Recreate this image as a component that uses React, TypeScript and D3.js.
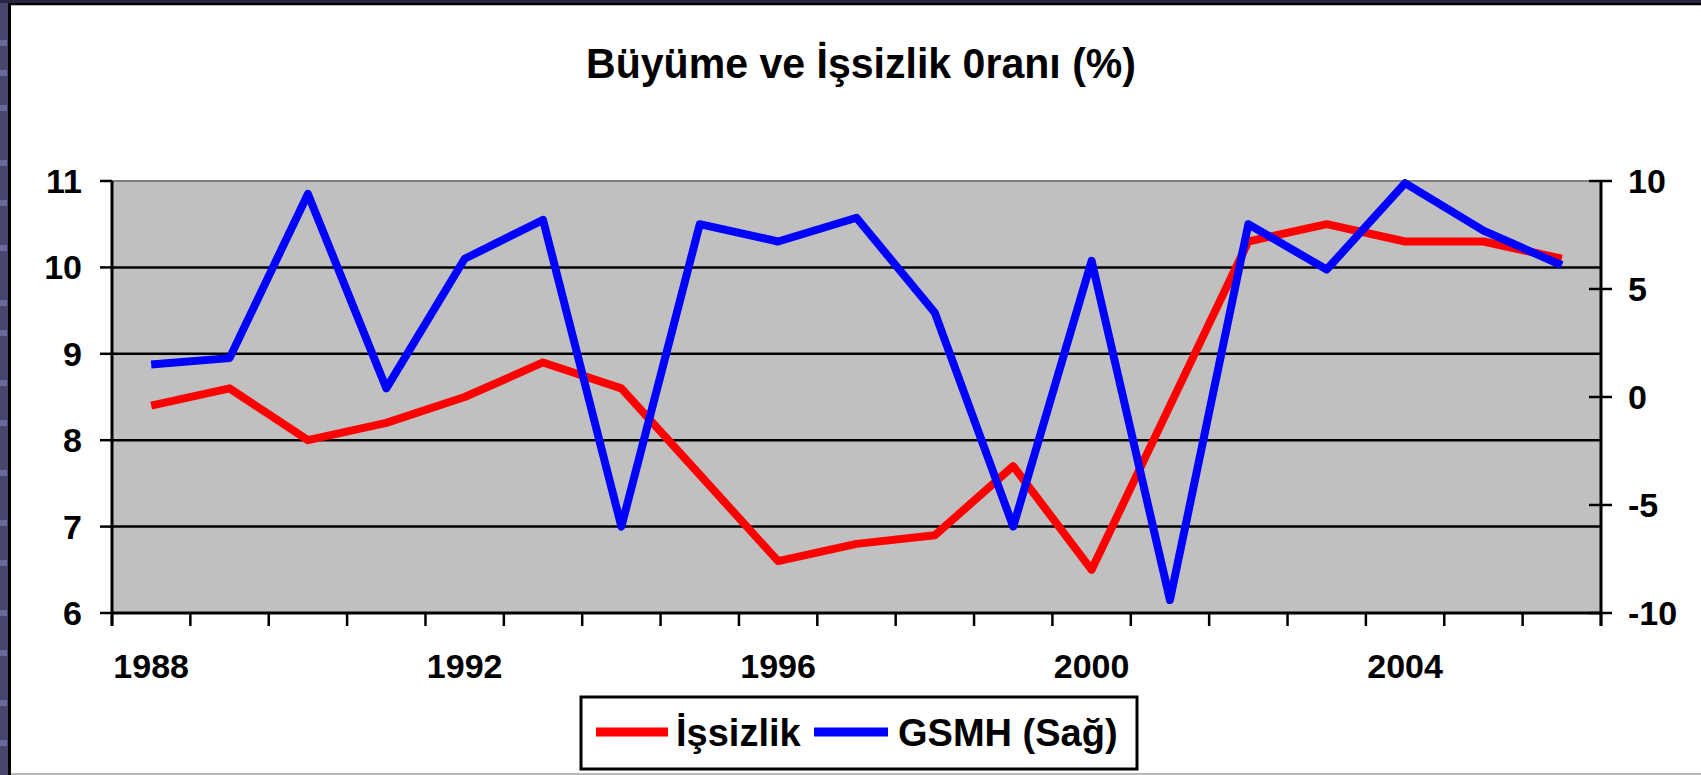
import React from "react";
import * as d3 from "d3";

const years = [1988,1989,1990,1991,1992,1993,1994,1995,1996,1997,1998,1999,2000,2001,2002,2003,2004,2005,2006];
const unemployment = [8.4,8.6,8.0,8.2,8.5,8.9,8.6,7.6,6.6,6.8,6.9,7.7,6.5,8.4,10.3,10.5,10.3,10.3,10.1];
const growth = [1.5,1.8,9.4,0.4,6.4,8.2,-6.0,8.0,7.2,8.3,3.9,-6.0,6.3,-9.4,8.0,5.9,9.9,7.7,6.1];
const leftTicks = [6,7,8,9,10,11];
const rightTicks = [-10,-5,0,5,10];
const yearLabels = [1988,1992,1996,2000,2004];
const title = "Büyüme ve İşsizlik 0ranı (%)";
const seriesNames = ["İşsizlik", "GSMH (Sağ)"];
const seriesColors = ["#FF0000", "#0000FF"];

const W = 1701, H = 775;
const L = 112, R = 1601, T = 181, B = 613;
const FONT = "'Liberation Sans', Arial, sans-serif";

export default function App() {
  const x = d3.scaleBand<number>().domain(years).range([L, R]).padding(0);
  const cx = (yr: number) => (x(yr) as number) + x.bandwidth() / 2;
  const yL = d3.scaleLinear().domain([6, 11]).range([B, T]);
  const yR = d3.scaleLinear().domain([-10, 10]).range([B, T]);

  const lineL = d3.line<number>().x((_, i) => cx(years[i])).y((d) => yL(d));
  const lineR = d3.line<number>().x((_, i) => cx(years[i])).y((d) => yR(d));

  const boundaries = years.map((yr) => x(yr) as number).concat([R]);
  const stripes = [40, 70, 105, 160, 200, 245, 300, 330, 380, 420, 470, 520, 560, 610, 650, 700, 740];

  return (
    <div style={{ position: "fixed", left: 0, top: 0 }}>
      <svg width={W} height={H} style={{ display: "block" }}>
        <rect x={0} y={0} width={W} height={H} fill="#ffffff" />
        {/* left decorative frame */}
        <rect x={0} y={0} width={8} height={H} fill="#46466e" />
        {stripes.map((s, i) => (
          <rect key={i} x={0} y={s} width={7} height={6} fill="#6a699c" />
        ))}
        <rect x={0} y={0} width={W} height={3} fill="#2a2840" />
        <rect x={8} y={3} width={W - 8} height={2} fill="#000" />
        <rect x={8} y={5} width={W - 8} height={1} fill="#bdbdbd" />
        <rect x={8} y={3} width={3} height={H - 3} fill="#000" />
        <rect x={11} y={H - 2} width={W - 11} height={2} fill="#b8b8b8" />

        {/* title */}
        <text x={861} y={78} textAnchor="middle" fontFamily={FONT} fontWeight="bold" fontSize={42}
          textLength={550} lengthAdjust="spacingAndGlyphs">{title}</text>

        {/* plot area */}
        <rect x={L} y={T} width={R - L} height={B - T} fill="#C0C0C0" />
        <line x1={L} x2={R} y1={T} y2={T} stroke="#808080" strokeWidth={2} />
        {leftTicks.filter((t) => t !== 6 && t !== 11).map((t) => (
          <line key={t} x1={L} x2={R} y1={yL(t)} y2={yL(t)} stroke="#000" strokeWidth={2.5} />
        ))}

        {/* axes */}
        <line x1={L} x2={R} y1={B} y2={B} stroke="#000" strokeWidth={3} />
        <line x1={L} x2={L} y1={T} y2={B + 13} stroke="#000" strokeWidth={3} />
        <line x1={R} x2={R} y1={T} y2={B + 13} stroke="#000" strokeWidth={3} />
        {leftTicks.map((t) => (
          <g key={t}>
            <line x1={L - 12} x2={L} y1={yL(t)} y2={yL(t)} stroke="#000" strokeWidth={2.5} />
            <text x={82} y={yL(t) + 12} textAnchor="end" fontFamily={FONT} fontWeight="bold" fontSize={34}>{t}</text>
          </g>
        ))}
        {rightTicks.map((t) => (
          <g key={t}>
            <line x1={R - 12} x2={R + 11} y1={yR(t)} y2={yR(t)} stroke="#000" strokeWidth={2.5} />
            <text x={1628} y={yR(t) + 12} textAnchor="start" fontFamily={FONT} fontWeight="bold" fontSize={34}>{t}</text>
          </g>
        ))}
        {boundaries.map((b, i) => (
          <line key={i} x1={b} x2={b} y1={B} y2={B + 13} stroke="#000" strokeWidth={2.5} />
        ))}
        {yearLabels.map((yr) => (
          <text key={yr} x={cx(yr)} y={678} textAnchor="middle" fontFamily={FONT} fontWeight="bold" fontSize={34}>{yr}</text>
        ))}

        {/* series */}
        <path d={lineL(unemployment) || ""} fill="none" stroke={seriesColors[0]} strokeWidth={8} strokeLinejoin="round" />
        <path d={lineR(growth) || ""} fill="none" stroke={seriesColors[1]} strokeWidth={8} strokeLinejoin="round" />

        {/* legend */}
        <rect x={581} y={697} width={556} height={72} fill="#fff" stroke="#000" strokeWidth={3} />
        <line x1={596} x2={668} y1={732} y2={732} stroke={seriesColors[0]} strokeWidth={9} />
        <text x={676} y={746} fontFamily={FONT} fontWeight="bold" fontSize={38}>{seriesNames[0]}</text>
        <line x1={814} x2={888} y1={732} y2={732} stroke={seriesColors[1]} strokeWidth={9} />
        <text x={898} y={746} fontFamily={FONT} fontWeight="bold" fontSize={38}>{seriesNames[1]}</text>
      </svg>
    </div>
  );
}
